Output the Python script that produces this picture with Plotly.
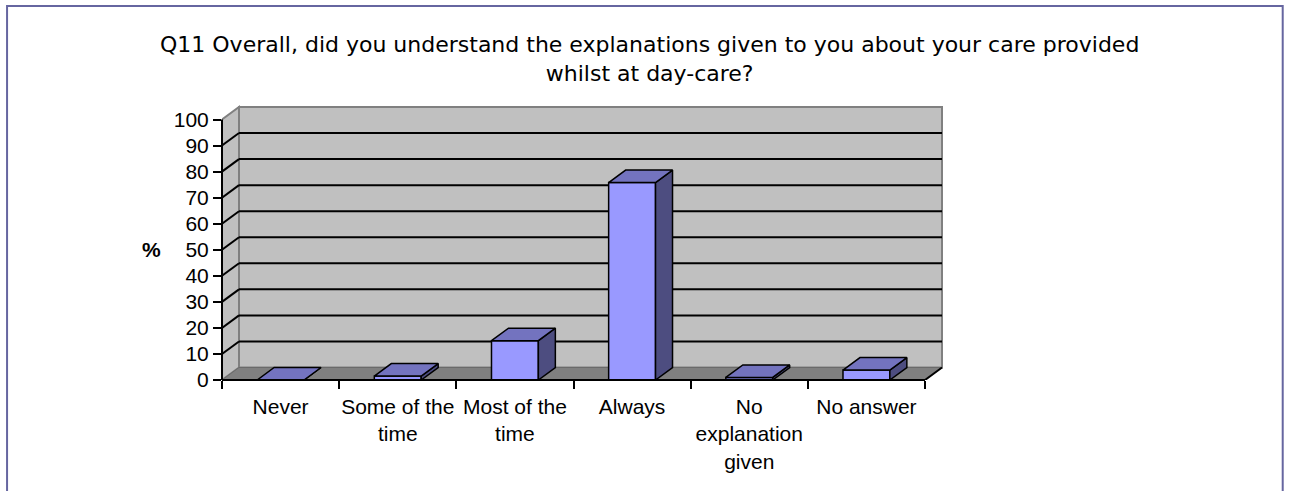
import plotly.graph_objects as go

# ---- data ----
categories = ["Never", "Some of the<br>time", "Most of the<br>time", "Always",
              "No<br>explanation<br>given", "No answer"]
percent = [0, 1.5, 15.1, 75.8, 1.0, 3.8]
y_ticks = list(range(0, 101, 10))
title_text = ("Q11 Overall, did you understand the explanations given to you about your care provided"
              "<br>whilst at day-care?")

# ---- geometry / style ----
W, H = 1289, 491
X0PX, Y0PX = 222, 380          # pixel of front-left-bottom corner
XS, YS = 117.2, 2.605          # px per category / px per percent
DX, DY = 17 / XS, 12.5 / YS    # 3-D depth offset in data units
PADX, PADY = 6 / XS, 6 / YS
BARW = 0.40
FONT = "Liberation Sans, Arial, sans-serif"

n = len(categories)
xlo, xhi = -0.5, n - 0.5 + DX + PADX
ylo, yhi = 0, 100 + DY + PADY
pw = (xhi - xlo) * XS
ph = (yhi - ylo) * YS
ml, mb = X0PX, H - Y0PX
mr = W - ml - pw
mt = H - mb - ph


def px(v):
    return (v - xlo) / (xhi - xlo)


fig = go.Figure()

# front faces
fig.add_trace(go.Bar(x=list(range(n)), y=percent, width=BARW,
                     marker=dict(color="#9999ff", line=dict(color="black", width=1.5)),
                     hoverinfo="skip"))

# top and side faces
topx, topy, sidex, sidey = [], [], [], []
for i, v in enumerate(percent):
    a, b = i - BARW / 2, i + BARW / 2
    topx += [a, b, b + DX, a + DX, a, None]
    topy += [v, v, v + DY, v + DY, v, None]
    sidex += [b, b + DX, b + DX, b, b, None]
    sidey += [0, DY, v + DY, v, 0, None]
fig.add_trace(go.Scatter(x=sidex, y=sidey, fill="toself", fillcolor="#4d4d80",
                         mode="lines", line=dict(color="black", width=1.5), hoverinfo="skip"))
fig.add_trace(go.Scatter(x=topx, y=topy, fill="toself", fillcolor="#7373bf",
                         mode="lines", line=dict(color="black", width=1.5), hoverinfo="skip"))

shapes = []
L, R = -0.5, n - 0.5
# back wall
shapes.append(dict(type="rect", xref="x", yref="y", x0=L + DX, x1=R + DX, y0=DY, y1=100 + DY,
                   fillcolor="#c0c0c0", line=dict(color="#808080", width=2), layer="below"))
# side wall
shapes.append(dict(type="path", xref="x", yref="y",
                   path=f"M {L},0 L {L+DX},{DY} L {L+DX},{100+DY} L {L},100 Z",
                   fillcolor="#c0c0c0", line=dict(color="#808080", width=2), layer="below"))
# floor
shapes.append(dict(type="path", xref="x", yref="y",
                   path=f"M {L},0 L {R},0 L {R+DX},{DY} L {L+DX},{DY} Z",
                   fillcolor="#808080", line=dict(color="#6a6a6a", width=1), layer="below"))
# gridlines
for k in y_ticks[1:-1]:
    shapes.append(dict(type="line", xref="x", yref="y", x0=L + DX, x1=R + DX, y0=k + DY, y1=k + DY,
                       line=dict(color="black", width=2), layer="below"))
    shapes.append(dict(type="line", xref="x", yref="y", x0=L, x1=L + DX, y0=k, y1=k + DY,
                       line=dict(color="black", width=2), layer="below"))
# axes lines
shapes.append(dict(type="line", xref="paper", yref="y", x0=0, x1=0, y0=0, y1=100,
                   line=dict(color="black", width=2)))
shapes.append(dict(type="line", xref="x", yref="paper", x0=L, x1=R, y0=0, y1=0,
                   line=dict(color="black", width=2)))
shapes.append(dict(type="line", xref="x", yref="y", x0=R, x1=R + DX, y0=0, y1=DY,
                   line=dict(color="black", width=2)))
# outer border
shapes.append(dict(type="rect", xref="paper", yref="paper",
                   x0=(7 - ml) / pw, x1=(1283 - ml) / pw,
                   y0=(H - mb - 520) / ph, y1=(H - mb - 6) / ph,
                   line=dict(color="#6666a0", width=2), fillcolor="rgba(0,0,0,0)"))

fig.update_layout(
    width=W, height=H,
    margin=dict(l=ml, r=mr, t=mt, b=mb, pad=0),
    paper_bgcolor="white", plot_bgcolor="rgba(0,0,0,0)",
    showlegend=False,
    shapes=shapes,
    font=dict(family=FONT, size=21, color="black"),
    xaxis=dict(range=[xlo, xhi], tickmode="array", tickvals=list(range(n)), ticktext=categories,
               ticks="", showgrid=False, zeroline=False, showline=False,
               tickfont=dict(size=21), ticklabelstandoff=12,
               minor=dict(tick0=-0.5, dtick=1, ticks="outside", ticklen=8, tickwidth=2,
                          tickcolor="black", showgrid=False)),
    yaxis=dict(range=[ylo, yhi], tickmode="array", tickvals=y_ticks,
               ticktext=[str(t) for t in y_ticks],
               ticks="outside", ticklen=8, tickwidth=2, tickcolor="black",
               showgrid=False, zeroline=False, showline=False, tickfont=dict(size=21)),
    annotations=[
        dict(text="<b>%</b>", xref="paper", yref="y", x=px(-0.5 - 71 / XS), y=50,
             showarrow=False, font=dict(size=21), xanchor="center", yanchor="middle"),
        dict(text=title_text, xref="paper", yref="paper", x=px(-0.5 + (650 - X0PX) / XS),
             y=(H - mb - 59) / ph, showarrow=False,
             font=dict(size=22, family="DejaVu Sans, Liberation Sans, sans-serif"),
             xanchor="center", yanchor="middle", align="center"),
    ],
)

fig.write_html("out.html", config={"displayModeBar": False},
               post_script="document.body.style.margin='0';")
